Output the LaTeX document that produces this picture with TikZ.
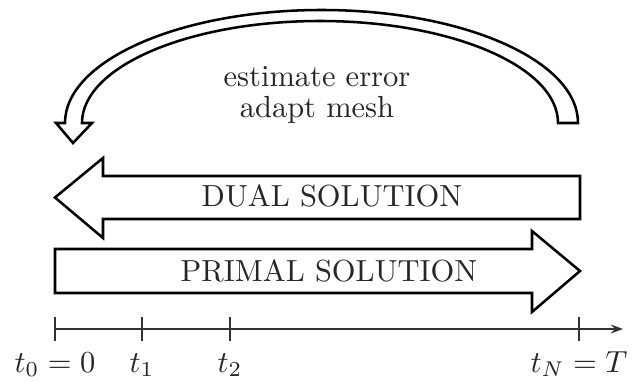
\documentclass[tikz,border=0pt]{standalone}
\usepackage{tikz}
\usetikzlibrary{arrows.meta}

% 10pt glyph shapes blown up to the size of the drawing
\newcommand{\bigtxt}[1]{\scalebox{2.169}{#1}}

\begin{document}
\begin{tikzpicture}[
    x=0.025cm, y=0.025cm,
    font=\fontsize{10}{12}\selectfont,
    blockarrow/.style={draw=black, fill=white, line width=1.8pt, line join=miter},
    axis/.style={-{Stealth[length=3mm, width=2.2mm]}, line width=1.6pt, black!80},
    tickmark/.style={line width=1.6pt, black!80},
    caption/.style={anchor=base, text=black!85, inner sep=0pt}
]
    % Canvas (1 unit = 1 px of the 637 x 381 frame)
    \useasboundingbox (0,0) rectangle (637,381);

    % Loop arrow back over the interval
    \draw[blockarrow] (578,258)
        arc[start angle=0, end angle=180, x radius=256.5, y radius=113]
        -- (56,258) -- (73,238) -- (92,258) -- (82,258)
        arc[start angle=180, end angle=0, x radius=238, y radius=102]
        -- cycle;
    \node[caption] (estimate) at (317,294) {\bigtxt{estimate error}};
    \node[caption] (adapt) at (317,263) {\bigtxt{adapt mesh}};

    % Backward sweep
    \draw[blockarrow] (580,162) -- (580,205) -- (103,205) -- (103,223)
        -- (55,183.5) -- (103,143) -- (103,162) -- cycle;
    \node[caption] (dual) at (332,174) {\bigtxt{DUAL SOLUTION}};

    % Forward sweep
    \draw[blockarrow] (55,88) -- (55,132) -- (532,132) -- (532,150)
        -- (580,110) -- (532,69) -- (532,88) -- cycle;
    \node[caption] (primal) at (329,99) {\bigtxt{PRIMAL SOLUTION}};

    % Time axis with grid points
    \coordinate (origin) at (55,52);
    \coordinate (axisend) at (623,52);
    \draw[axis] (origin) -- (axisend);
    \foreach \x/\name/\lab in {55/t0/{t_0 = 0}, 142/t1/{t_1}, 230/t2/{t_2}, 579/tN/{t_N = T}} {
        \draw[tickmark] (\x,40) -- (\x,64);
        \node[caption] (\name) at (\x,9) {\bigtxt{$\lab$}};
    }

\end{tikzpicture}
\end{document}
